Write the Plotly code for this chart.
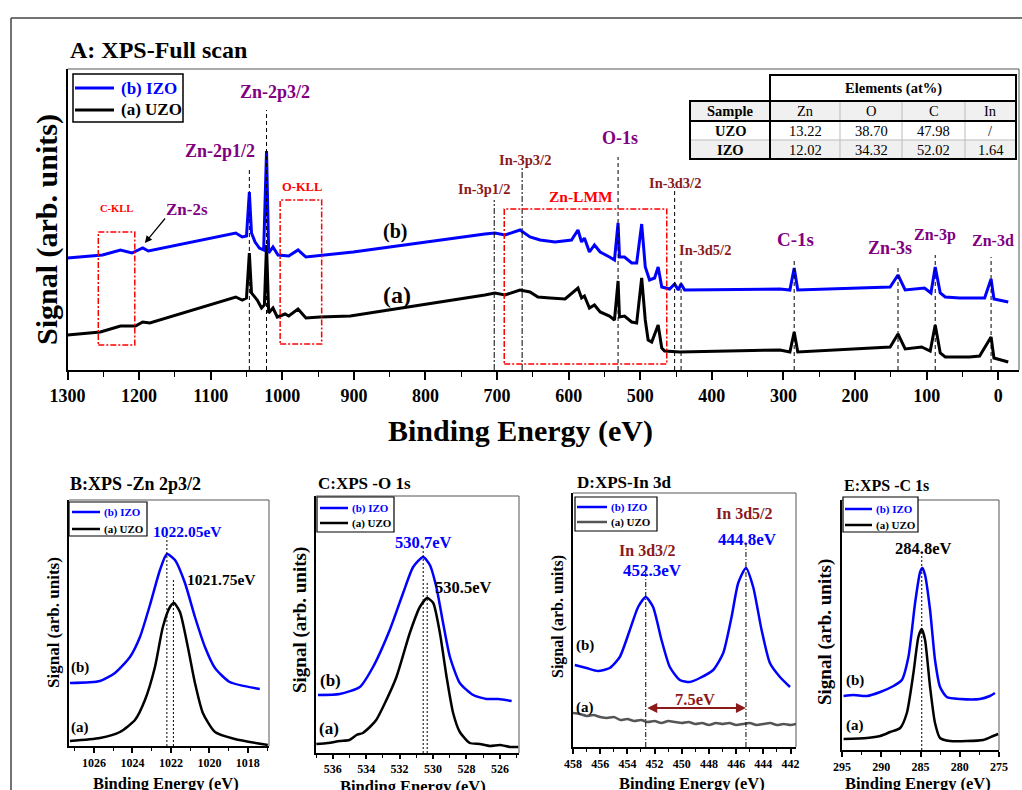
import plotly.graph_objects as go

W, H = 1022, 790
FONT = "Liberation Serif"
BLUE = "#0000FF"
PURPLE = "#800080"
DRED = "#8B1A1A"
RED = "#FF0000"

# ---------------- Panel A : full scan ----------------
A_IZO_EV = [1300, 1251, 1226, 1210, 1195, 1187, 1065, 1056, 1050, 1046, 1043, 1038, 1032, 1026, 1022, 1019,
            1013, 1006, 991, 978, 967, 952, 901, 717, 703, 689, 668, 654, 640, 619, 596, 587, 582, 578, 571,
            564, 556, 543, 536, 531, 529, 522, 512, 505, 498, 493, 487, 480, 475, 470, 459, 452, 447, 443,
            438, 305, 291, 285, 280, 151, 140, 130, 103, 94, 88, 81, 74, 54, 19, 10, 6, -14]
A_IZO_SIG = [112, 115, 120, 117, 122, 119, 137, 133, 134, 178, 137, 128, 122, 120, 219, 117,
             123, 115, 114, 120, 113, 114, 118, 136, 137, 135, 140, 133, 130, 128, 130, 140, 128, 132, 118,
             125, 118, 113, 110, 147, 113, 113, 107, 107, 146, 103, 90, 92, 103, 83, 81, 86, 80, 86,
             80, 81, 80, 102, 80, 83, 95, 80, 82, 77, 103, 77, 73, 72, 72, 91, 71, 68]
A_UZO_EV = [1300, 1254, 1226, 1205, 1195, 1185, 1065, 1056, 1050, 1046, 1043, 1035, 1029, 1025, 1022, 1019,
            1013, 1007, 996, 991, 978, 967, 947, 905, 717, 703, 689, 668, 654, 643, 626, 605, 587, 582, 578,
            571, 564, 556, 543, 536, 531, 529, 522, 512, 505, 498, 493, 489, 484, 475, 470, 466, 445, 305,
            291, 285, 280, 207, 151, 140, 130, 107, 95, 88, 81, 74, 40, 26, 10, 6, -14]
A_UZO_SIG = [35, 38, 44, 44, 48, 47, 73, 70, 72, 117, 77, 70, 62, 65, 125, 57,
             62, 53, 56, 54, 61, 52, 53, 54, 75, 77, 75, 80, 78, 73, 72, 71, 82, 72, 74,
             62, 65, 58, 54, 50, 89, 53, 54, 48, 47, 92, 50, 30, 28, 45, 22, 19, 18, 20,
             18, 38, 18, 21, 23, 36, 21, 23, 19, 45, 17, 13, 13, 14, 33, 12, 8]

# peak marker positions (eV) and labels
A_PEAK_NAMES = ["Zn-2p3/2", "Zn-2p1/2", "In-3p1/2", "In-3p3/2", "O-1s", "In-3d3/2", "In-3d5/2",
                "C-1s", "Zn-3s", "Zn-3p", "Zn-3d"]
A_PEAK_EV = [1022, 1046, 704, 665, 531, 452, 443, 285, 140, 88, 10]

# table
TABLE_ELEMENTS = ["Zn", "O", "C", "In"]
TABLE_SAMPLES = ["UZO", "IZO"]
TABLE_VALUES = [["13.22", "38.70", "47.98", "/"],
                ["12.02", "34.32", "52.02", "1.64"]]

# ---------------- Panel B : Zn 2p3/2 ----------------
B_IZO_EV = [1027.25, 1025.69, 1024.91, 1024.13, 1023.61, 1023.09, 1022.57, 1022.21, 1021.79, 1021.27,
            1020.75, 1020.23, 1019.71, 1018.94, 1017.38]
B_IZO_SIG = [63, 65, 73, 89, 109, 141, 176, 192, 186, 163, 129, 99, 78, 64, 57]
B_UZO_EV = [1027.25, 1025.69, 1024.65, 1023.87, 1023.35, 1022.83, 1022.42, 1022.05, 1021.84, 1021.53,
            1021.12, 1020.75, 1020.34, 1019.71, 1018.68, 1016.96]
B_UZO_SIG = [5, 8, 14, 26, 46, 79, 119, 139, 143, 134, 99, 63, 33, 14, 7, 1]

# ---------------- Panel C : O 1s ----------------
C_IZO_EV = [536.88, 535.58, 534.38, 533.59, 532.59, 531.79, 531.19, 530.59, 530.19, 529.79, 529.40,
            528.99, 528.40, 527.60, 526.80, 526.10, 525.30]
C_IZO_SIG = [58, 59, 66, 86, 123, 160, 186, 196, 188, 165, 130, 96, 70, 58, 54, 54, 52]
C_UZO_EV = [536.98, 536.3, 535.58, 535.0, 534.58, 534.2, 533.78, 533.4, 532.99, 532.19, 531.39, 530.79,
            530.35, 529.99, 529.59, 529.19, 528.80, 528.40, 527.80, 527.2, 526.60, 526.0, 525.4, 524.90]
C_UZO_SIG = [9, 10, 12, 13, 18, 20, 26, 33, 46, 76, 120, 146, 155, 150, 120, 76, 40, 21, 10, 9, 7, 8, 6, 6]

# ---------------- Panel D : In 3d ----------------
D_IZO_EV = [457.87, 457.01, 456.16, 455.30, 454.56, 453.82, 453.21, 452.65, 452.11, 451.49, 450.88,
            450.14, 449.41, 448.67, 447.69, 446.95, 446.34, 445.85, 445.28, 444.75, 444.13, 443.52,
            442.78, 442.04]
D_IZO_SIG = [82, 79, 76, 79, 90, 117, 140, 150, 140, 107, 80, 67, 65, 69, 77, 94, 130, 164, 179, 160,
             117, 84, 70, 60]
D_UZO_EV = [458.0, 457.5, 457.0, 456.5, 456.0, 455.5, 455.0, 454.5, 454.0, 453.5, 453.0, 452.5, 452.0,
            451.5, 451.0, 450.5, 450.0, 449.5, 449.0, 448.5, 448.0, 447.5, 447.0, 446.5, 446.0, 445.5,
            445.0, 444.5, 444.0, 443.5, 443.0, 442.5, 442.0, 441.6]
D_UZO_SIG = [34, 33, 31, 32, 30, 29, 30, 27, 28, 26, 27, 25, 26, 24, 26, 25, 24, 25, 23, 24, 22, 24,
             23, 24, 22, 23, 24, 22, 23, 24, 22, 23, 22, 23]

# ---------------- Panel E : C 1s ----------------
E_IZO_EV = [294.80, 293.53, 291.82, 290.13, 288.44, 287.38, 286.54, 285.69, 285.05, 284.76, 284.42,
            283.78, 283.15, 282.51, 281.66, 279.97, 277.43, 276.16, 275.52]
E_IZO_SIG = [54, 55, 54, 58, 64, 70, 93, 147, 178, 182, 175, 140, 90, 63, 53, 51, 51, 54, 57]
E_UZO_EV = [294.80, 291.82, 290.13, 288.86, 287.59, 286.74, 285.90, 285.27, 284.84, 284.42, 283.78,
            283.15, 282.51, 281.24, 277.01, 275.74, 275.10]
E_UZO_SIG = [11, 12, 14, 18, 22, 37, 77, 113, 121, 110, 63, 27, 12, 9, 10, 14, 16]

# =====================================================
fig = go.Figure()


def X(px):
    return px / W


def Y(py):
    return 1 - py / H


def ann(text, x, y, size, color="black", bold=True, xanchor="center", angle=0):
    fig.add_annotation(xref="paper", yref="paper", x=X(x), y=Y(y),
                       text=f"<b>{text}</b>" if bold else text, showarrow=False,
                       font=dict(family=FONT, size=size, color=color),
                       xanchor=xanchor, yanchor="middle", textangle=angle)


def pline(x0, y0, x1, y1, color="black", width=1, dash="solid"):
    fig.add_shape(type="line", xref="paper", yref="paper", x0=X(x0), y0=Y(y0), x1=X(x1), y1=Y(y1),
                  line=dict(color=color, width=width, dash=dash))


def prect(x0, y0, x1, y1, color="black", width=1, fill="rgba(0,0,0,0)"):
    fig.add_shape(type="rect", xref="paper", yref="paper", x0=X(x0), y0=Y(y0), x1=X(x1), y1=Y(y1),
                  line=dict(color=color, width=width), fillcolor=fill, layer="above")


# traces
panels = [
    ("x", "y", A_IZO_EV, A_IZO_SIG, A_UZO_EV, A_UZO_SIG, 3, "linear", "black"),
    ("x2", "y2", B_IZO_EV, B_IZO_SIG, B_UZO_EV, B_UZO_SIG, 2.5, "spline", "black"),
    ("x3", "y3", C_IZO_EV, C_IZO_SIG, C_UZO_EV, C_UZO_SIG, 2.5, "spline", "black"),
    ("x4", "y4", D_IZO_EV, D_IZO_SIG, D_UZO_EV, D_UZO_SIG, 2.5, "spline", "#555555"),
    ("x5", "y5", E_IZO_EV, E_IZO_SIG, E_UZO_EV, E_UZO_SIG, 2.5, "spline", "black"),
]
for xa, ya, bx, by, ax_, ay_, lw, shape, acol in panels:
    fig.add_trace(go.Scatter(x=ax_, y=ay_, xaxis=xa, yaxis=ya, mode="lines",
                             line=dict(color=acol, width=lw, shape=shape, smoothing=0.6), name="(a) UZO"))
    fig.add_trace(go.Scatter(x=bx, y=by, xaxis=xa, yaxis=ya, mode="lines",
                             line=dict(color=BLUE, width=lw, shape=shape, smoothing=0.6), name="(b) IZO"))


def xaxis_cfg(dom, rng, dtick, minor, tsize, anchor, ticklen=7):
    return dict(domain=[X(dom[0]), X(dom[1])], range=rng, anchor=anchor, tickmode="linear", tick0=0,
                dtick=dtick, ticks="outside", ticklen=ticklen, tickwidth=1.5, tickcolor="black",
                showline=True, linecolor="black", linewidth=2, showgrid=False, zeroline=False,
                automargin=False,
                tickfont=dict(family=FONT, size=tsize, color="black", weight="bold"),
                minor=dict(dtick=minor, ticks="outside", ticklen=max(3, ticklen - 3), tickwidth=1.2,
                           tickcolor="black", showgrid=False))


def yaxis_cfg(dom, rng, anchor):
    return dict(domain=[Y(dom[1]), Y(dom[0])], range=rng, anchor=anchor, showline=True, linecolor="black",
                linewidth=2, showgrid=False, zeroline=False, showticklabels=False, ticks="",
                automargin=False)


boxes = {
    "A": (67.5, 1019, 69, 370),
    "B": (69, 269, 500, 746),
    "C": (316, 519, 496, 753),
    "D": (573, 796, 493, 747),
    "E": (842, 999, 500, 750),
}

fig.update_layout(
    width=W, height=H, margin=dict(l=0, r=0, t=0, b=0, pad=0, autoexpand=False),
    paper_bgcolor="white", plot_bgcolor="white", showlegend=False,
    xaxis=xaxis_cfg((67.5, 1019), [1300, -29], 100, 50, 18, "y", 8),
    yaxis=yaxis_cfg((69, 370), [0, 301], "x"),
    xaxis2=xaxis_cfg((69, 269), [1027.3, 1016.9], 2, 1, 12, "y2", 5),
    yaxis2=yaxis_cfg((500, 746), [0, 246], "x2"),
    xaxis3=xaxis_cfg((316, 519), [537.0, 524.86], 2, 1, 12, "y3", 4),
    yaxis3=yaxis_cfg((496, 753), [0, 257], "x3"),
    xaxis4=xaxis_cfg((573, 796), [458.0, 441.6], 2, 1, 12, "y4", 5),
    yaxis4=yaxis_cfg((493, 747), [0, 254], "x4"),
    xaxis5=xaxis_cfg((842, 999), [295, 275], 5, 2.5, 12, "y5", 5),
    yaxis5=yaxis_cfg((500, 750), [0, 250], "x5"),
)

# top/right thin borders
for k, (x0, x1, y0, y1) in boxes.items():
    pline(x0, y0, x1, y0, "#555555", 1)
    pline(x1, y0, x1, y1, "#555555", 1)

# outer frame
pline(11, 18, 11, 790, "#444444", 1.5)
pline(11, 18, 1022, 18, "#444444", 1.5)

# ---------- Panel A decorations ----------
ann("A: XPS-Full scan", 68, 50, 24, xanchor="left")
ann("Signal (arb. units)", 47, 230, 30, angle=-90)
ann("Binding Energy (eV)", 520, 431, 30)

peak_tops = [260, 200, 170, 203, 213, 183, 112, 110, 105, 115, 113]
peak_dash = ["4px,3px", "4px,3px", "6px,2px,2px,2px", "6px,2px,2px,2px", "4px,3px", "4px,3px",
             "4px,3px", "4px,3px", "4px,3px", "4px,3px", "4px,3px"]
for ev, top, d in zip(A_PEAK_EV, peak_tops, peak_dash):
    fig.add_shape(type="line", xref="x", yref="y", x0=ev, x1=ev, y0=0, y1=top,
                  line=dict(color="black", width=1, dash=d))

# red dash-dot regions
for (e0, e1, s0, s1) in [(1257, 1206, 25, 138), (1003, 945, 26, 170), (690, 463, 6, 161)]:
    fig.add_shape(type="rect", xref="x", yref="y", x0=e0, x1=e1, y0=s0, y1=s1,
                  line=dict(color=RED, width=1.5, dash="6px,2px,2px,2px"))

label_pos = {
    "Zn-2p3/2": (275, 92, 18, PURPLE), "Zn-2p1/2": (220, 151, 18, PURPLE),
    "In-3p1/2": (484, 189, 14.5, DRED), "In-3p3/2": (525, 160, 14.5, DRED),
    "O-1s": (620, 138, 18, PURPLE), "In-3d3/2": (675, 183, 14.5, DRED),
    "In-3d5/2": (705, 250, 14.5, DRED), "C-1s": (795, 239, 19, PURPLE),
    "Zn-3s": (890, 248, 18, PURPLE), "Zn-3p": (935, 235, 16, PURPLE), "Zn-3d": (993, 240, 16, PURPLE),
}
for name in A_PEAK_NAMES:
    x, y, s, c = label_pos[name]
    ann(name, x, y, s, c)
ann("Zn-2s", 187, 210, 17, PURPLE)
ann("C-KLL", 116, 208, 10.5, RED)
ann("O-KLL", 302, 187, 12.5, RED)
ann("Zn-LMM", 581, 196, 15.5, RED)
ann("(b)", 395, 231, 20)
ann("(a)", 397, 295, 24)
fig.add_annotation(xref="x", yref="y", x=1192, y=127, ax=1162, ay=153, axref="x", ayref="y",
                   text="", showarrow=True, arrowhead=2, arrowsize=1.2, arrowwidth=1.2, arrowcolor="black")

# legend A
prect(73, 74, 183, 122, "black", 1.5, "white")
pline(75, 88, 114, 88, BLUE, 3)
pline(75, 110, 114, 110, "black", 3)
ann("(b) IZO", 119, 88, 17, BLUE, xanchor="left")
ann("(a) UZO", 119, 110, 17, "black", xanchor="left")

# table
col_x = [690, 770, 840, 902, 965, 1016]
row_y = [101, 121, 140, 159]
prect(770, 75, 1016, 101, "black", 2, "white")
ann("Elements (at%)", 893, 88, 14.5)
prect(690, 101, 1016, 121, "rgba(0,0,0,0)", 0, "#f0f0f0")
prect(690, 140, 1016, 159, "rgba(0,0,0,0)", 0, "#f0f0f0")
for xv in col_x[2:5]:
    pline(xv, 101, xv, 159, "#bbbbbb", 1)
pline(690, 140, 1016, 140, "#bbbbbb", 1)
pline(690, 121, 1016, 121, "black", 2)
pline(770, 101, 770, 159, "black", 2)
prect(690, 101, 1016, 159, "black", 2)
ann("Sample", (col_x[0] + col_x[1]) / 2, (row_y[0] + row_y[1]) / 2, 14.5)
for j, el in enumerate(TABLE_ELEMENTS):
    ann(el, (col_x[j + 1] + col_x[j + 2]) / 2, (row_y[0] + row_y[1]) / 2, 14.5, bold=False)
for i, smp in enumerate(TABLE_SAMPLES):
    yc = (row_y[i + 1] + row_y[i + 2]) / 2
    ann(smp, (col_x[0] + col_x[1]) / 2, yc, 14.5)
    for j, v in enumerate(TABLE_VALUES[i]):
        ann(v, (col_x[j + 1] + col_x[j + 2]) / 2, yc, 14.5, bold=False)


# ---------- small panels ----------
def small_legend(x0, y0, x1, y1, lx0, lx1, ly_b, ly_a, tx, acol="black"):
    prect(x0, y0, x1, y1, "black", 1.2, "white")
    pline(lx0, ly_b, lx1, ly_b, BLUE, 2.5)
    pline(lx0, ly_a, lx1, ly_a, acol, 2.5)
    ann("(b) IZO", tx, ly_b, 11, BLUE, xanchor="left")
    ann("(a) UZO", tx, ly_a, 11, "black", xanchor="left")


# B
ann("B:XPS -Zn 2p3/2", 68, 484, 18, xanchor="left")
ann("Signal (arb. units)", 53, 623, 17, angle=-90)
ann("Binding Energy (eV)", 166, 783, 16.5)
small_legend(69, 502, 147, 536, 72, 100, 512, 529, 102)
ann("1022.05eV", 187, 531, 15.5, BLUE)
ann("1021.75eV", 221, 579, 15.5)
ann("(b)", 80, 667, 15)
ann("(a)", 80, 727, 15)
fig.add_shape(type="line", xref="x2", yref="y2", x0=1022.21, x1=1022.21, y0=0, y1=209,
              line=dict(color="black", width=1, dash="2px,2px"))
fig.add_shape(type="line", xref="x2", yref="y2", x0=1021.87, x1=1021.87, y0=0, y1=168,
              line=dict(color="black", width=1, dash="2px,2px"))

# C
ann("C:XPS -O 1s", 316, 483, 17, xanchor="left")
ann("Signal (arb. units)", 300, 620, 19, angle=-90)
ann("Binding Energy (eV)", 413, 786, 16.5)
small_legend(317, 497, 394, 532, 320, 348, 508, 523, 350)
ann("530.7eV", 423, 542, 16.5, BLUE)
ann("530.5eV", 463, 587, 16.5)
ann("(b)", 330, 680, 17)
ann("(a)", 329, 728, 17)
fig.add_shape(type="line", xref="x3", yref="y3", x0=530.59, x1=530.59, y0=0, y1=208,
              line=dict(color="black", width=1, dash="2px,2px"))
fig.add_shape(type="line", xref="x3", yref="y3", x0=530.35, x1=530.35, y0=0, y1=170,
              line=dict(color="black", width=1, dash="2px,2px"))

# D
ann("D:XPS-In 3d", 575, 482, 17, xanchor="left")
ann("Signal (arb. units)", 558, 617, 16, angle=-90)
ann("Binding Energy (eV)", 692, 783, 16.5)
small_legend(575, 497, 657, 531, 577, 607, 507, 522, 609, "#555555")
ann("In 3d3/2", 647, 550, 16, DRED)
ann("452.3eV", 652, 570, 17, BLUE)
ann("In 3d5/2", 744, 513, 16, DRED)
ann("444.8eV", 747, 539, 17, BLUE)
ann("7.5eV", 695, 699, 16.5, DRED)
ann("(b)", 585, 645, 15)
ann("(a)", 585, 707, 15)
fig.add_shape(type="line", xref="x4", yref="y4", x0=452.65, x1=452.65, y0=0, y1=175,
              line=dict(color="black", width=1, dash="5px,2px,1px,2px"))
fig.add_shape(type="line", xref="x4", yref="y4", x0=445.28, x1=445.28, y0=0, y1=204,
              line=dict(color="black", width=1, dash="5px,2px,1px,2px"))
fig.add_annotation(xref="x4", yref="y4", x=445.28, y=39, ax=452.65, ay=39, axref="x4", ayref="y4",
                   text="", showarrow=True, arrowhead=2, arrowside="end+start", arrowsize=1,
                   arrowwidth=2, arrowcolor=DRED)

# E
ann("E:XPS -C 1s", 842, 486, 16, xanchor="left")
ann("Signal (arb. units)", 825, 632, 19, angle=-90)
ann("Binding Energy (eV)", 918, 783, 16.5)
small_legend(843, 497, 918, 532, 845, 872, 509, 525, 874)
ann("284.8eV", 923, 548, 16.5)
ann("(b)", 855, 680, 15)
ann("(a)", 855, 725, 15)
fig.add_shape(type="line", xref="x5", yref="y5", x0=284.84, x1=284.84, y0=0, y1=195,
              line=dict(color="black", width=1, dash="2px,2px"))

fig.write_html("out.html", config={"displayModeBar": False},
               post_script="document.body.style.margin='0px';")
